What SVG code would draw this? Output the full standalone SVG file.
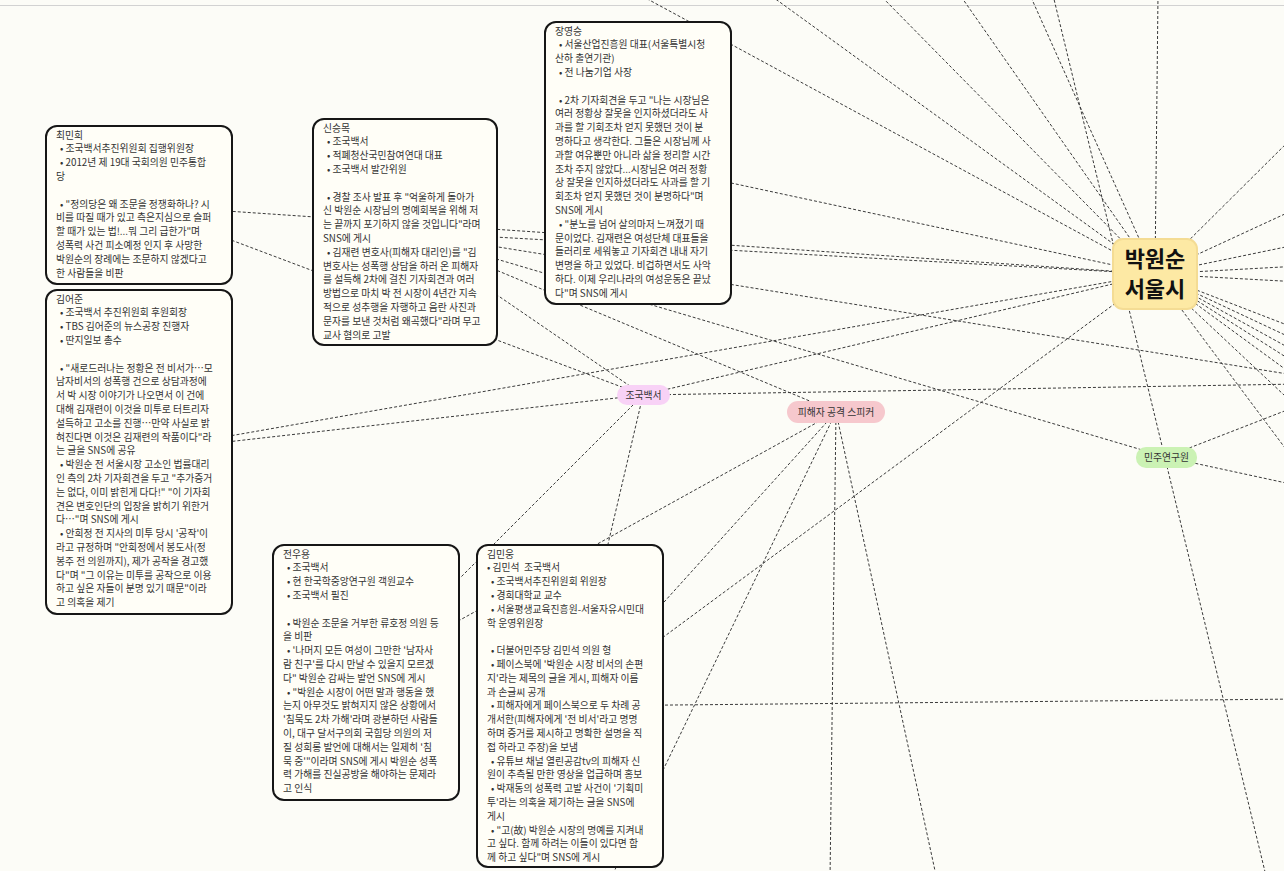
<svg xmlns="http://www.w3.org/2000/svg" width="1284" height="871" viewBox="0 0 1284 871">
<style>
.bg{fill:#fcfcf7}
.box{fill:#fffef7;stroke:#161616;stroke-width:2}
.t{font-family:"Noto Sans CJK KR","Noto Sans",sans-serif;font-size:9.8px;fill:#333}
.e{stroke:#3a3a3a;stroke-width:1;stroke-dasharray:3 2;fill:none}
.pt{font-family:"Noto Sans CJK KR","Noto Sans",sans-serif;font-size:9.8px;fill:#333;text-anchor:middle}
.hub{font-family:"Noto Sans CJK KR","Noto Sans",sans-serif;font-size:22px;font-weight:bold;fill:#111;text-anchor:middle}
</style>
<rect class="bg" x="0" y="0" width="1284" height="871"/>
<line x1="0" y1="5.5" x2="1284" y2="5.5" stroke="#d2d2d2" stroke-width="1"/>
<g id="connectors">
<line class="e" x1="138" y1="205" x2="1155" y2="274"/>
<line class="e" x1="138" y1="205" x2="643" y2="395"/>
<line class="e" x1="138" y1="452" x2="643" y2="395"/>
<line class="e" x1="138" y1="452" x2="1155" y2="274"/>
<line class="e" x1="405" y1="232" x2="1155" y2="274"/>
<line class="e" x1="405" y1="232" x2="643" y2="395"/>
<line class="e" x1="405" y1="232" x2="836" y2="412"/>
<line class="e" x1="405" y1="232" x2="1166" y2="457"/>
<line class="e" x1="405" y1="232" x2="1300" y2="376"/>
<line class="e" x1="638" y1="163" x2="1155" y2="274"/>
<line class="e" x1="366" y1="672" x2="643" y2="395"/>
<line class="e" x1="366" y1="672" x2="836" y2="412"/>
<line class="e" x1="570" y1="706" x2="643" y2="395"/>
<line class="e" x1="570" y1="706" x2="836" y2="412"/>
<line class="e" x1="570" y1="706" x2="1155" y2="274"/>
<line class="e" x1="570" y1="706" x2="1300" y2="699"/>
<line class="e" x1="643" y1="395" x2="1155" y2="274"/>
<line class="e" x1="643" y1="395" x2="1300" y2="384"/>
<line class="e" x1="836" y1="412" x2="610" y2="880"/>
<line class="e" x1="836" y1="412" x2="830" y2="880"/>
<line class="e" x1="836" y1="412" x2="937" y2="880"/>
<line class="e" x1="1166" y1="457" x2="1300" y2="405"/>
<line class="e" x1="1166" y1="457" x2="1300" y2="486"/>
<line class="e" x1="1053" y1="-5" x2="1267" y2="880"/>
<line class="e" x1="1155" y1="274" x2="640" y2="-5"/>
<line class="e" x1="1155" y1="274" x2="770" y2="-5"/>
<line class="e" x1="1155" y1="274" x2="880" y2="-5"/>
<line class="e" x1="1155" y1="274" x2="960" y2="-5"/>
<line class="e" x1="1155" y1="274" x2="1030" y2="-5"/>
<line class="e" x1="1155" y1="274" x2="1158" y2="-5"/>
<line class="e" x1="1155" y1="274" x2="1300" y2="130"/>
<line class="e" x1="1155" y1="274" x2="1300" y2="207"/>
<line class="e" x1="1155" y1="274" x2="1300" y2="244"/>
<line class="e" x1="1155" y1="274" x2="1300" y2="266"/>
<line class="e" x1="1155" y1="274" x2="1300" y2="282"/>
<line class="e" x1="1155" y1="274" x2="1300" y2="330"/>
<line class="e" x1="1155" y1="274" x2="1300" y2="342"/>
<line class="e" x1="1155" y1="274" x2="1300" y2="354"/>
<line class="e" x1="1155" y1="274" x2="1300" y2="366"/>
<line class="e" x1="1155" y1="274" x2="1300" y2="380"/>
<line class="e" x1="1155" y1="274" x2="1300" y2="410"/>
<line class="e" x1="1155" y1="274" x2="1300" y2="468"/>
</g>
<g id="choiminhee">
<rect class="box" x="46" y="126" width="186" height="158" rx="11"/>
<text class="t">
<tspan x="56" y="138.5">최민희</tspan>
<tspan x="60" y="152.3">• 조국백서추진위원회 집행위원장</tspan>
<tspan x="60" y="166.1">• 2012년 제 19대 국회의원 민주통합</tspan>
<tspan x="56" y="179.9">당</tspan>
<tspan x="60" y="207.5">• "정의당은 왜 조문을 정쟁화하나? 시</tspan>
<tspan x="56" y="221.3">비를 따질 때가 있고 측은지심으로 슬퍼</tspan>
<tspan x="56" y="235.1">할 때가 있는 법!...뭐 그리 급한가"며</tspan>
<tspan x="56" y="248.9">성폭력 사건 피소예정 인지 후 사망한</tspan>
<tspan x="56" y="262.7">박원순의 장례에는 조문하지 않겠다고</tspan>
<tspan x="56" y="276.5">한 사람들을 비판</tspan>
</text>
</g>
<g id="kimeojun">
<rect class="box" x="46" y="290" width="186" height="324" rx="11"/>
<text class="t">
<tspan x="56" y="302.5">김어준</tspan>
<tspan x="60" y="316.3">• 조국백서 추진위원회 후원회장</tspan>
<tspan x="60" y="330.1">• TBS 김어준의 뉴스공장 진행자</tspan>
<tspan x="60" y="343.9">• 딴지일보 총수</tspan>
<tspan x="60" y="371.5">• "새로드러나는 정황은 전 비서가…모</tspan>
<tspan x="56" y="385.3">남자비서의 성폭행 건으로 상담과정에</tspan>
<tspan x="56" y="399.1">서 박 시장 이야기가 나오면서 이 건에</tspan>
<tspan x="56" y="412.9">대해 김재련이 이것을 미투로 터트리자</tspan>
<tspan x="56" y="426.7">설득하고 고소를 진행…만약 사실로 밝</tspan>
<tspan x="56" y="440.5">혀진다면 이것은 김재련의 작품이다"라</tspan>
<tspan x="56" y="454.3">는 글을 SNS에 공유</tspan>
<tspan x="60" y="468.1">• 박원순 전 서울시장 고소인 법률대리</tspan>
<tspan x="56" y="481.9">인 측의 2차 기자회견을 두고 "추가증거</tspan>
<tspan x="56" y="495.7">는 없다, 이미 밝힌게 다다!" "이 기자회</tspan>
<tspan x="56" y="509.5">견은 변호인단의 입장을 밝히기 위한거</tspan>
<tspan x="56" y="523.3">다…"며 SNS에 게시</tspan>
<tspan x="60" y="537.1">• 안희정 전 지사의 미투 당시 '공작'이</tspan>
<tspan x="56" y="550.9">라고 규정하며 "안희정에서 봉도사(정</tspan>
<tspan x="56" y="564.7">봉주 전 의원까지), 제가 공작을 경고했</tspan>
<tspan x="56" y="578.5">다"며 "그 이유는 미투를 공작으로 이용</tspan>
<tspan x="56" y="592.3">하고 싶은 자들이 분명 있기 때문"이라</tspan>
<tspan x="56" y="606.1">고 의혹을 제기</tspan>
</text>
</g>
<g id="sinseungmok">
<rect class="box" x="313" y="119" width="184" height="226" rx="11"/>
<text class="t">
<tspan x="323" y="131.5">신승목</tspan>
<tspan x="327" y="145.3">• 조국백서</tspan>
<tspan x="327" y="159.1">• 적폐청산국민참여연대 대표</tspan>
<tspan x="327" y="172.9">• 조국백서 발간위원</tspan>
<tspan x="327" y="200.5">• 경찰 조사 발표 후 "억울하게 돌아가</tspan>
<tspan x="323" y="214.3">신 박원순 시장님의 명예회복을 위해 저</tspan>
<tspan x="323" y="228.1">는 끝까지 포기하지 않을 것입니다"라며</tspan>
<tspan x="323" y="241.9">SNS에 게시</tspan>
<tspan x="327" y="255.7">• 김재련 변호사(피해자 대리인)를 "김</tspan>
<tspan x="323" y="269.5">변호사는 성폭행 상담을 하러 온 피해자</tspan>
<tspan x="323" y="283.3">를 설득해 2차에 걸친 기자회견과 여러</tspan>
<tspan x="323" y="297.1">방법으로 마치 박 전 시장이 4년간 지속</tspan>
<tspan x="323" y="310.9">적으로 성추행을 자행하고 음란 사진과</tspan>
<tspan x="323" y="324.7">문자를 보낸 것처럼 왜곡했다"라며 무고</tspan>
<tspan x="323" y="338.5">교사 혐의로 고발</tspan>
</text>
</g>
<g id="jangyeongseung">
<rect class="box" x="545" y="22" width="186" height="282" rx="11"/>
<text class="t">
<tspan x="555" y="34.5">장영승</tspan>
<tspan x="559" y="48.3">• 서울산업진흥원 대표(서울특별시청</tspan>
<tspan x="555" y="62.1">산하 출연기관)</tspan>
<tspan x="559" y="75.9">• 전 나눔기업 사장</tspan>
<tspan x="559" y="103.5">• 2차 기자회견을 두고 "나는 시장님은</tspan>
<tspan x="555" y="117.3">여러 정황상 잘못을 인지하셨더라도 사</tspan>
<tspan x="555" y="131.1">과를 할 기회조차 얻지 못했던 것이 분</tspan>
<tspan x="555" y="144.9">명하다고 생각한다. 그들은 시장님께 사</tspan>
<tspan x="555" y="158.7">과할 여유뿐만 아니라 삶을 정리할 시간</tspan>
<tspan x="555" y="172.5">조차 주지 않았다...시장님은 여러 정황</tspan>
<tspan x="555" y="186.3">상 잘못을 인지하셨더라도 사과를 할 기</tspan>
<tspan x="555" y="200.1">회조차 얻지 못했던 것이 분명하다"며</tspan>
<tspan x="555" y="213.9">SNS에 게시</tspan>
<tspan x="559" y="227.7">• "분노를 넘어 살의마저 느껴졌기 때</tspan>
<tspan x="555" y="241.5">문이었다. 김재련은 여성단체 대표들을</tspan>
<tspan x="555" y="255.3">들러리로 세워놓고 기자회견 내내 자기</tspan>
<tspan x="555" y="269.1">변명을 하고 있었다. 비겁하면서도 사악</tspan>
<tspan x="555" y="282.9">하다. 이제 우리나라의 여성운동은 끝났</tspan>
<tspan x="555" y="296.7">다"며 SNS에 게시</tspan>
</text>
</g>
<g id="jeonuyong">
<rect class="box" x="273" y="545" width="186" height="255" rx="11"/>
<text class="t">
<tspan x="283" y="557.5">전우용</tspan>
<tspan x="287" y="571.3">• 조국백서</tspan>
<tspan x="287" y="585.1">• 현 한국학중앙연구원 객원교수</tspan>
<tspan x="287" y="598.9">• 조국백서 필진</tspan>
<tspan x="287" y="626.5">• 박원순 조문을 거부한 류호정 의원 등</tspan>
<tspan x="283" y="640.3">을 비판</tspan>
<tspan x="287" y="654.1">• '나머지 모든 여성이 그만한 '남자사</tspan>
<tspan x="283" y="667.9">람 친구'를 다시 만날 수 있을지 모르겠</tspan>
<tspan x="283" y="681.7">다" 박원순 감싸는 발언 SNS에 게시</tspan>
<tspan x="287" y="695.5">• "박원순 시장이 어떤 말과 행동을 했</tspan>
<tspan x="283" y="709.3">는지 아무것도 밝혀지지 않은 상황에서</tspan>
<tspan x="283" y="723.1">'침묵도 2차 가해'라며 광분하던 사람들</tspan>
<tspan x="283" y="736.9">이, 대구 달서구의회 국힘당 의원의 저</tspan>
<tspan x="283" y="750.7">질 성희롱 발언에 대해서는 일제히 '침</tspan>
<tspan x="283" y="764.5">묵 중'"이라며 SNS에 게시 박원순 성폭</tspan>
<tspan x="283" y="778.3">력 가해를 진실공방을 해야하는 문제라</tspan>
<tspan x="283" y="792.1">고 인식</tspan>
</text>
</g>
<g id="kimminung">
<rect class="box" x="477" y="545" width="186" height="322" rx="11"/>
<text class="t" xml:space="preserve"><tspan x="487" y="557.5">김민웅</tspan><tspan x="487" y="571.3">• 김민석  조국백서</tspan><tspan x="491" y="585.1">• 조국백서추진위원회 위원장</tspan><tspan x="491" y="598.9">• 경희대학교 교수</tspan><tspan x="491" y="612.7">• 서울평생교육진흥원-서울자유시민대</tspan><tspan x="487" y="626.5">학 운영위원장</tspan><tspan x="491" y="654.1">• 더불어민주당 김민석 의원 형</tspan><tspan x="491" y="667.9">• 페이스북에 '박원순 시장 비서의 손편</tspan><tspan x="487" y="681.7">지'라는 제목의 글을 게시, 피해자 이름</tspan><tspan x="487" y="695.5">과 손글씨 공개</tspan><tspan x="491" y="709.3">• 피해자에게 페이스북으로 두 차례 공</tspan><tspan x="487" y="723.1">개서한(피해자에게 '전 비서'라고 명명</tspan><tspan x="487" y="736.9">하며 증거를 제시하고 명확한 설명을 직</tspan><tspan x="487" y="750.7">접 하라고 주장)을 보냄</tspan><tspan x="491" y="764.5">• 유튜브 채널 열린공감tv의 피해자 신</tspan><tspan x="487" y="778.3">원이 추측될 만한 영상을 업급하며 홍보</tspan><tspan x="491" y="792.1">• 박재동의 성폭력 고발 사건이 '기획미</tspan><tspan x="487" y="805.9">투'라는 의혹을 제기하는 글을 SNS에</tspan><tspan x="487" y="819.7">게시</tspan><tspan x="491" y="833.5">• "고(故) 박원순 시장의 명예를 지켜내</tspan><tspan x="487" y="847.3">고 싶다. 함께 하려는 이들이 있다면 함</tspan><tspan x="487" y="861.1">께 하고 싶다"며 SNS에 게시</tspan></text>
</g>
<g id="jogukbaekseo">
<rect x="617" y="385" width="53" height="20" rx="10" fill="#f8d2f6"/>
<text class="pt" x="643.5" y="398.5">조국백서</text>
</g>
<g id="victim-speaker">
<rect x="787" y="401" width="98" height="22" rx="11" fill="#f6c8cd"/>
<text class="pt" x="836" y="415.5">피해자 공격 스피커</text>
</g>
<g id="minju-institute">
<rect x="1136" y="447" width="61" height="21" rx="10" fill="#cbf2b4"/>
<text class="pt" x="1166.5" y="461">민주연구원</text>
</g>
<g id="hub">
<rect x="1113" y="239" width="84" height="70" rx="10" fill="#fde9a4" stroke="#f4dc94" stroke-width="2"/>
<text class="hub" x="1155" y="267">박원순</text>
<text class="hub" x="1155" y="297">서울시</text>
</g>
</svg>
